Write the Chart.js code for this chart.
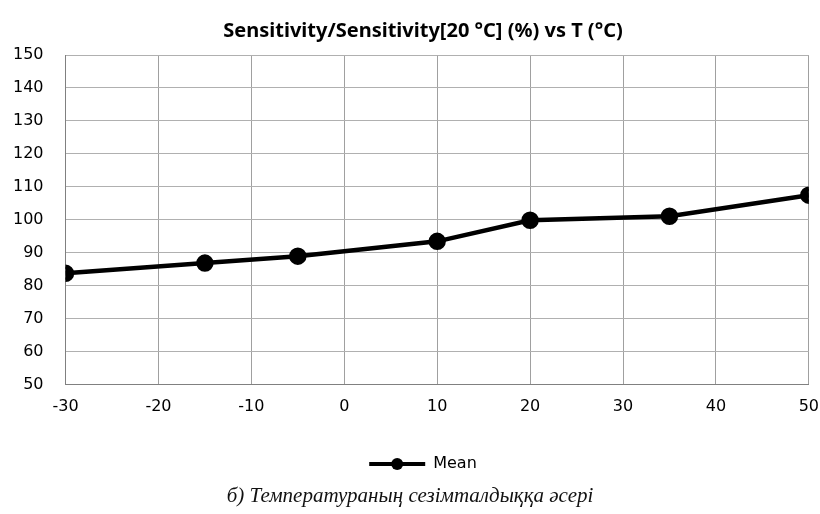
<!DOCTYPE html>
<html>
<head>
<meta charset="utf-8">
<script src="https://cdn.jsdelivr.net/npm/chart.js@4/dist/chart.umd.min.js"></script>
<style>
  html, body { margin: 0; padding: 0; background: #fff; }
  #wrap { position: relative; width: 820px; height: 514px; }
  #caption { position: absolute; left: 0; width: 820px; top: 483px; text-align: center;
    font-family: "Liberation Serif", "DejaVu Serif", serif; font-style: italic; font-size: 21px; color: #111; }
</style>
</head>
<body>
<div id="wrap">
  <canvas id="c" width="820" height="514"></canvas>
  <div id="caption">б) Температураның сезімталдыққа әсері</div>
</div>
<script>
const temperatures = [-30, -15, -5, 10, 20, 35, 50];
const meanValues = [83.8, 86.9, 89.0, 93.5, 99.9, 101.1, 107.5];
const xTicks = [-30, -20, -10, 0, 10, 20, 30, 40, 50];
const yTicks = [50, 60, 70, 80, 90, 100, 110, 120, 130, 140, 150];
const chartTitle = 'Sensitivity/Sensitivity[20 °C] (%) vs T (°C)';
const seriesName = 'Mean';

const legendMarker = {
  id: 'legendMarker',
  afterDraw(chart) {
    const lg = chart.legend;
    if (!lg || !lg.legendHitBoxes) return;
    const ctx = chart.ctx;
    lg.legendHitBoxes.forEach(b => {
      ctx.save();
      ctx.fillStyle = '#000';
      ctx.beginPath();
      ctx.arc(b.left + lg.options.labels.boxWidth / 2, b.top + b.height / 2, 6, 0, Math.PI * 2);
      ctx.fill();
      ctx.restore();
    });
  }
};

const tickFont = { family: 'DejaVu Sans', size: 16 };

new Chart(document.getElementById('c'), {
  type: 'line',
  data: {
    datasets: [{
      label: seriesName,
      data: temperatures.map((t, i) => ({ x: t, y: meanValues[i] })),
      borderColor: '#000',
      backgroundColor: '#000',
      borderWidth: 4.5,
      pointRadius: 6.5,
      pointBackgroundColor: '#000',
      pointBorderColor: '#000',
      tension: 0
    }]
  },
  plugins: [legendMarker],
  options: {
    responsive: false,
    animation: false,
    layout: { autoPadding: false, padding: { left: -9, right: -35, top: 10, bottom: 32 } },
    plugins: {
      title: {
        display: true,
        text: chartTitle,
        color: '#000',
        font: { family: 'Noto Sans', size: 20, weight: 'bold' },
        padding: { top: 9, bottom: 12 }
      },
      legend: {
        display: true,
        position: 'bottom',
        labels: {
          color: '#000',
          font: tickFont,
          boxWidth: 56,
          boxHeight: 4,
          padding: 39,
          generateLabels(chart) {
            return [{ text: seriesName, fillStyle: '#000', strokeStyle: '#000', lineWidth: 0, datasetIndex: 0 }];
          }
        }
      },
      tooltip: { enabled: false }
    },
    scales: {
      x: {
        type: 'linear',
        min: xTicks[0],
        max: xTicks[xTicks.length - 1],
        afterBuildTicks(axis) { axis.ticks = xTicks.map(v => ({ value: v })); },
        grid: { color: '#a0a0a0', lineWidth: 1, drawTicks: true, tickLength: 11, tickColor: 'rgba(0,0,0,0)' },
        border: { color: '#808080', width: 1 },
        ticks: { color: '#000', font: tickFont, padding: 1, maxRotation: 0 }
      },
      y: {
        min: yTicks[0],
        max: yTicks[yTicks.length - 1],
        afterBuildTicks(axis) { axis.ticks = yTicks.map(v => ({ value: v })); },
        grid: { color: '#b0b0b0', lineWidth: 1, drawTicks: false },
        border: { color: '#808080', width: 1 },
        ticks: { color: '#000', font: tickFont, padding: 22 }
      }
    }
  }
});
</script>
</body>
</html>
